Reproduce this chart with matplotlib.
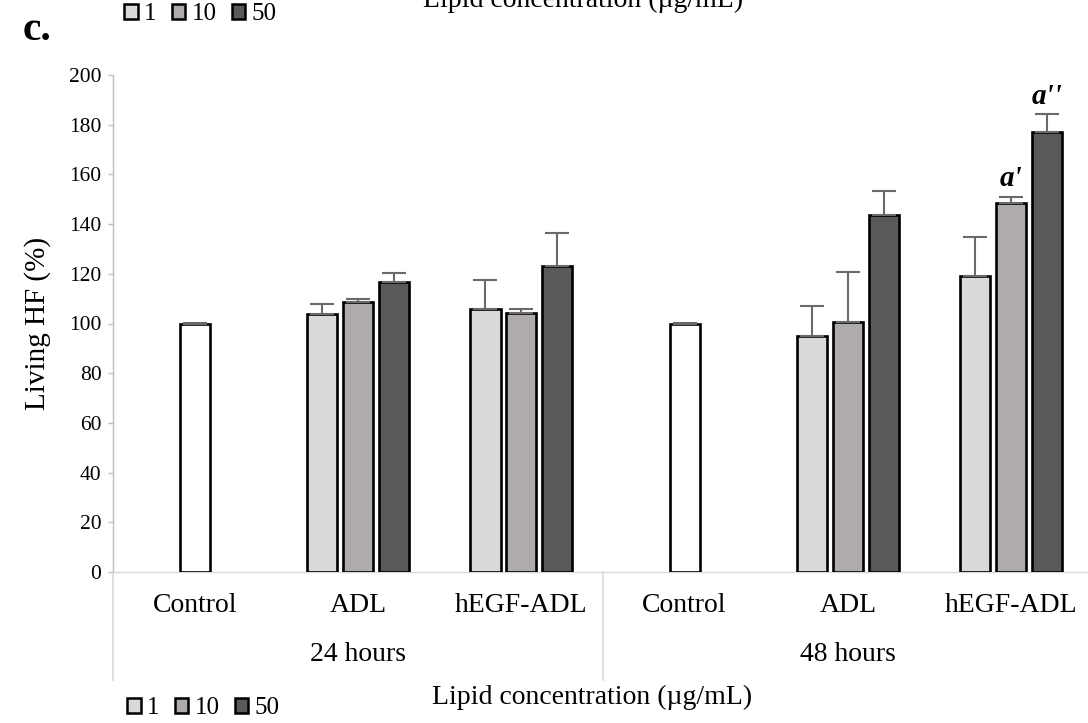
import matplotlib
matplotlib.use("Agg")
import matplotlib.pyplot as plt
import matplotlib.transforms as mtransforms
from matplotlib.patches import Patch
import numpy as np

plt.rcParams['font.family'] = ['Liberation Serif', 'DejaVu Serif']

# ---------------- data ----------------
categories = ["Control", "ADL", "hEGF-ADL", "Control", "ADL", "hEGF-ADL"]
groups = ["24 hours", "48 hours"]
series_names = ["1", "10", "50"]
series_colors = ["#d9d9d9", "#afabab", "#595959"]

control_pos = [0, 3]
control_vals = [100.0, 100.0]
control_err = [0.3, 0.3]

treated_pos = [1, 2, 4, 5]
s1_vals = [103.7, 105.8, 95.1, 119.2]
s1_err = [4.0, 11.6, 11.9, 15.7]
s10_vals = [108.8, 104.2, 100.7, 148.3]
s10_err = [0.9, 1.6, 20.1, 2.7]
s50_vals = [116.6, 123.3, 143.7, 176.9]
s50_err = [3.8, 13.3, 9.6, 7.3]

# significance labels: (series index, treated index, text)
sig_labels = [(1, 3, "a'"), (2, 3, "a''")]

yticks = list(range(0, 201, 20))
ylabel = "Living HF (%)"
xlabel = "Lipid concentration (µg/mL)"

# ---------------- figure ----------------
W, H = 1088, 723
fig = plt.figure(figsize=(W / 100, H / 100), dpi=100)
ax_l, ax_r, ax_t, ax_b = 113.4, 1092.6, 75, 572
ax = fig.add_axes([ax_l / W, 1 - ax_b / H, (ax_r - ax_l) / W, (ax_b - ax_t) / H])

bw = 0.184
step = 0.22
edge_lw = 1.9
err_kw = dict(fmt='none', ecolor='#6a6a6a', elinewidth=1.5, capsize=8.5, capthick=1.5, zorder=4)

# control bars
ax.bar(control_pos, control_vals, width=bw, color='white', edgecolor='black',
       linewidth=edge_lw, zorder=3)
ax.errorbar(control_pos, control_vals, yerr=[np.zeros(len(control_err)), control_err], **err_kw)

all_vals = [s1_vals, s10_vals, s50_vals]
all_errs = [s1_err, s10_err, s50_err]
tp = np.array(treated_pos, dtype=float)
for i, (vals, errs) in enumerate(zip(all_vals, all_errs)):
    x = tp + (i - 1) * step
    ax.bar(x, vals, width=bw, color=series_colors[i], edgecolor='black',
           linewidth=edge_lw, zorder=3)
    ax.errorbar(x, vals, yerr=[np.zeros(len(errs)), errs], **err_kw)

for si, ti, txt in sig_labels:
    x = treated_pos[ti] + (si - 1) * step
    y = all_vals[si][ti] + all_errs[si][ti]
    ax.annotate(txt, xy=(x, y), xytext=(0, 7.5), textcoords='offset points',
                ha='center', va='baseline', fontsize=21, fontweight='bold',
                fontstyle='italic')

# axes styling
ax.set_xlim(-0.5, 5.5)
ax.set_ylim(0, 200)
ax.set_yticks(yticks)
ax.set_yticklabels([str(t) for t in yticks])
for s in ['top', 'right']:
    ax.spines[s].set_visible(False)
ax.spines['left'].set_color('#bfbfbf')
ax.spines['bottom'].set_color('#d9d9d9')
ax.spines['left'].set_linewidth(1.0)
ax.spines['bottom'].set_linewidth(1.0)
ax.tick_params(axis='y', direction='out', length=3.6, width=1.0, color='#bfbfbf',
               labelsize=15.5, pad=5)
ax.set_xticks(range(len(categories)))
ax.set_xticklabels(categories)
ax.tick_params(axis='x', length=0, labelsize=20, pad=15)

ax.set_ylabel(ylabel, fontsize=21)
ax.yaxis.set_label_coords(-0.064, 0.5)

# multi-level category boundaries
trans = mtransforms.blended_transform_factory(ax.transData, ax.transAxes)
for b in [-0.5, 2.5, 5.5]:
    ax.plot([b, b], [0, -0.218], transform=trans, clip_on=False,
            color='#d9d9d9', lw=1.2)
for gi, g in enumerate(groups):
    ax.text(1 + 3 * gi, -0.167, g, transform=trans, ha='center', va='center', fontsize=20)

# axis titles (bottom and clipped top copy)
fig.text(592 / W, 1 - 697 / H, xlabel, ha='center', va='center', fontsize=20)
fig.text(583 / W, 1 - 7 / H, xlabel, ha='center', va='baseline', fontsize=20)

# legends (top and bottom)
handles = [Patch(facecolor=c, edgecolor='black', linewidth=1.8) for c in series_colors]
leg_kw = dict(ncol=3, frameon=False, fontsize=18, handlelength=0.55, handleheight=0.55,
              handletextpad=0.25, columnspacing=0.6, borderpad=0, borderaxespad=0,
              loc='center left')
fig.legend(handles, series_names, bbox_to_anchor=(124 / W, 1 - 14 / H), **leg_kw)
fig.legend(handles, series_names, bbox_to_anchor=(127 / W, 1 - 708 / H), **leg_kw)

fig.text(23 / W, 1 - 40 / H, "c.", fontsize=30, fontweight='bold', va='baseline')

fig.savefig("out.png", dpi=100)
